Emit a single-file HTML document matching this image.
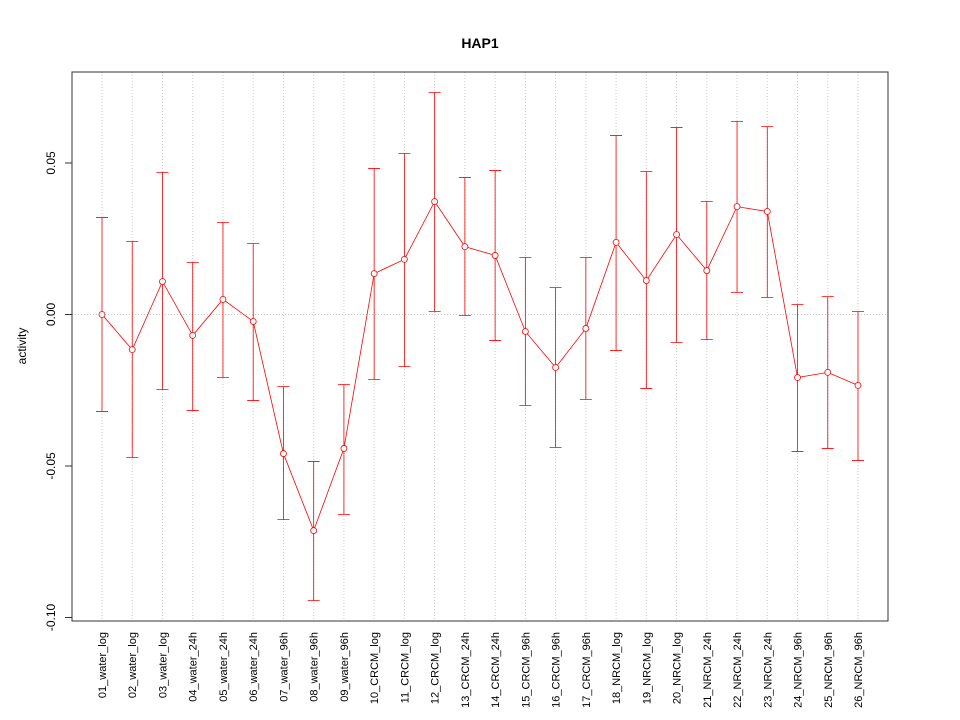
<!DOCTYPE html>
<html><head><meta charset="utf-8"><style>
body{margin:0;background:#fff}
svg{display:block;font-family:"Liberation Sans",Arial,sans-serif}
</style></head><body>
<svg id="chart" width="960" height="720" viewBox="0 0 960 720">
<text x="480" y="48" text-anchor="middle" font-weight="bold" font-size="14">HAP1</text>
<text transform="translate(26,346) rotate(-90)" text-anchor="middle" font-size="12">activity</text>
<g id="grid"></g><g id="yaxis"></g><g id="xaxis"></g><g id="marks"></g>
<rect x="72" y="72" width="816" height="549" fill="none" stroke="#333" stroke-width="1"/>
</svg>
<script>
const categories=["01_water_log","02_water_log","03_water_log","04_water_24h","05_water_24h","06_water_24h","07_water_96h","08_water_96h","09_water_96h","10_CRCM_log","11_CRCM_log","12_CRCM_log","13_CRCM_24h","14_CRCM_24h","15_CRCM_96h","16_CRCM_96h","17_CRCM_96h","18_NRCM_log","19_NRCM_log","20_NRCM_log","21_NRCM_24h","22_NRCM_24h","23_NRCM_24h","24_NRCM_96h","25_NRCM_96h","26_NRCM_96h"];
const values=[0,-0.0116,0.0109,-0.0069,0.005,-0.0023,-0.0459,-0.0713,-0.0442,0.0135,0.0182,0.0373,0.0224,0.0195,-0.0056,-0.0175,-0.0046,0.0238,0.0112,0.0264,0.0145,0.0356,0.034,-0.0208,-0.0191,-0.0234];
const upper=[0.032,0.0241,0.0469,0.0172,0.0304,0.0234,-0.0238,-0.0485,-0.0231,0.0482,0.0531,0.0733,0.0452,0.0475,0.0188,0.0089,0.0188,0.0591,0.0472,0.0617,0.0373,0.0637,0.062,0.0033,0.0059,0.001];
const lower=[-0.032,-0.0472,-0.0248,-0.0317,-0.0208,-0.0284,-0.0677,-0.0944,-0.066,-0.0215,-0.0172,0.001,-0.0003,-0.0086,-0.03,-0.0439,-0.028,-0.0119,-0.0244,-0.0092,-0.0083,0.0073,0.0056,-0.0452,-0.0442,-0.0482];
const yTicks=[-0.10,-0.05,0.00,0.05];
const yTickLabels=["-0.10","-0.05","0.00","0.05"];
const NS="http://www.w3.org/2000/svg";
const y=v=>314.5-v*3030;
const x=i=>102+i*(858-102)/(categories.length-1);
function mk(tag,attrs,parent){const e=document.createElementNS(NS,tag);for(const k in attrs)e.setAttribute(k,attrs[k]);document.getElementById(parent).appendChild(e);return e;}
categories.forEach((c,i)=>{
 const g=mk("line",{x1:x(i),x2:x(i),y1:72,y2:621,stroke:"#ccc","stroke-dasharray":"1,2"},"grid");
 
 
 const t=mk("text",{transform:`translate(${x(i)+4},632) rotate(-90)`,"text-anchor":"end","font-size":"11"},"xaxis");
 t.textContent=c;
 
 
});
const g0=mk("line",{x1:72,x2:888,y1:y(0),y2:y(0),stroke:"#ccc","stroke-dasharray":"1,2"},"grid");


yTicks.forEach((v,i)=>{
 const l=mk("line",{x1:65,x2:72,y1:y(v),y2:y(v),stroke:"#333"},"yaxis");
 
 
 const t=mk("text",{transform:`translate(55,${y(v)}) rotate(-90)`,"text-anchor":"middle","font-size":"12"},"yaxis");
 t.textContent=yTickLabels[i];
 
 
});
const yl=mk("line",{x1:72,x2:72,y1:y(yTicks[0]),y2:y(yTicks[yTicks.length-1]),stroke:"#333"},"yaxis");


const pl=mk("polyline",{points:values.map((v,i)=>x(i)+","+y(v)).join(" "),fill:"none",stroke:"#f00","stroke-width":"0.8"},"marks");


values.forEach((v,i)=>{
 const e=mk("path",{d:`M${x(i)},${y(upper[i])}V${y(lower[i])}M${x(i)-6},${y(upper[i])}h12M${x(i)-6},${y(lower[i])}h12`,stroke:"#f00",fill:"none","stroke-width":"0.8"},"marks");
 
 
 const p=mk("circle",{cx:x(i),cy:y(v),r:3,fill:"#fff",stroke:"#f00","stroke-width":"0.8"},"marks");
 
 
});
</script>
</body></html>
